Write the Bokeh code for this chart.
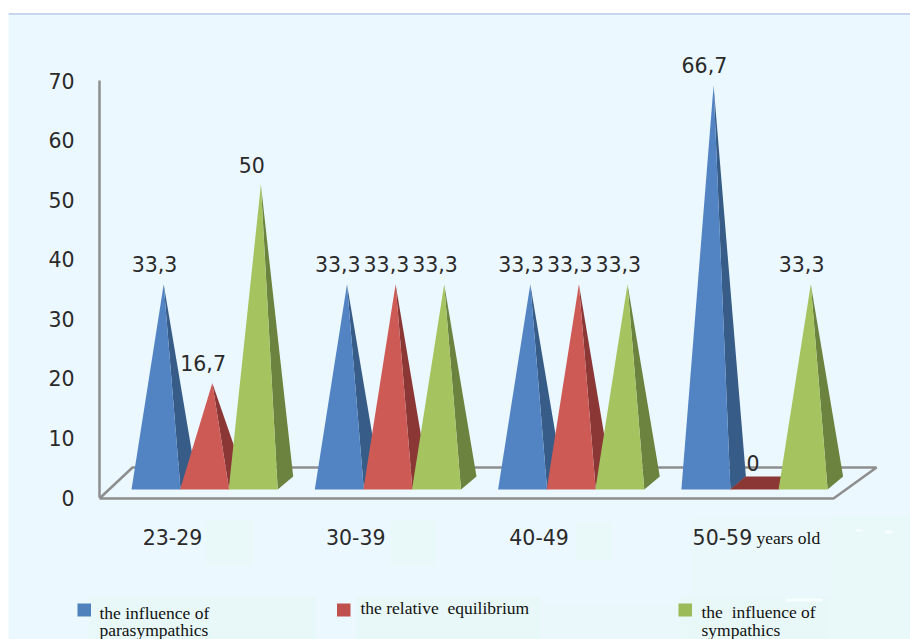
from bokeh.plotting import figure
from bokeh.models import LinearAxis, FixedTicker
from bokeh.core.properties import value
from bokeh.embed import file_html
from bokeh.resources import INLINE

categories = ["23-29", "30-39", "40-49", "50-59"]
parasympathics = [33.3, 33.3, 33.3, 66.7]
equilibrium = [16.7, 33.3, 33.3, 0]
sympathics = [50, 33.3, 33.3, 33.3]
y_ticks = [0, 10, 20, 30, 40, 50, 60, 70]
legend_names = ["the influence of\nparasympathics", "the relative\u00a0 equilibrium", "the\u00a0 influence of\nsympathics"]

PANEL = "#ECF8FF"
GRAY = "#8E8E8E"
INK = "#2A2A2A"
FRONT = ["#5284C4", "#CE5A56", "#A5C45F"]
SIDE = ["#375C88", "#8A3735", "#6C823F"]
SWATCH = ["#4F81BD", "#C0504D", "#9BBB59"]

# pixel scale of the reference chart, image coordinates
SX, SY = 183.3, 5.957
X0, Y0 = 172.0, 497.0
LEFT, RIGHT, TOP, BOTTOM = 8.0, 910.0, 13.0, 639.0


def X(px):
    return (px - X0) / SX


def Y(py):
    return (Y0 - py) / SY


p = figure(
    width=902, height=626, output_backend="svg", toolbar_location=None,
    x_range=(X(LEFT), X(RIGHT)), y_range=(Y(BOTTOM), Y(TOP)),
    x_axis_location=None, y_axis_location=None,
    min_border_left=0, min_border_right=0, min_border_top=0, min_border_bottom=0,
    background_fill_color=PANEL, border_fill_color=PANEL, outline_line_color=None,
)
p.margin = (13, 0, 0, 8)
p.grid.visible = False

# faint blotches of the scanned background
blotches = [
    (205, 253, 520, 566, "#E9F8F9"), (390, 436, 520, 566, "#E9F8F9"), (575, 612, 522, 560, "#E9F8F9"),
    (88, 316, 596, 639, "#E8F8F8"), (355, 540, 596, 639, "#E8F8F8"), (540, 680, 604, 639, "#EAF8FB"),
    (680, 830, 596, 639, "#E8F8F8"), (830, 910, 515, 639, "#E9F8F9"), (690, 830, 516, 596, "#EAF8FB"),
]
for l, r, t, b, c in blotches:
    p.quad(left=[X(l)], right=[X(r)], top=[Y(t)], bottom=[Y(b)], fill_color=c, line_color=None)
for l, r, t, b in [(786, 822, 598, 601), (855, 862, 529, 531), (885, 892, 530, 533)]:
    p.quad(left=[X(l)], right=[X(r)], top=[Y(t)], bottom=[Y(b)], fill_color="#F8FDFF", line_color=None)

# top rule
p.line([X(LEFT), X(RIGHT)], [Y(TOP), Y(TOP)], line_color="#9DB4DC", line_width=2)

# floor of the 3D plot
p.line([X(99), X(833), X(876), X(132), X(99)], [Y(498), Y(498), Y(467), Y(467), Y(498)],
       line_color=GRAY, line_width=2.5)

# y axis, placed inside the wide frame
yaxis = LinearAxis(ticker=FixedTicker(ticks=y_ticks), bounds=(0, 70))
yaxis.fixed_location = X(99)
yaxis.axis_line_color = GRAY
yaxis.axis_line_width = 2.5
yaxis.major_tick_line_color = None
yaxis.minor_tick_line_color = None
yaxis.major_label_text_font = "DejaVu Sans"
yaxis.major_label_text_font_size = "20.5px"
yaxis.major_label_text_color = INK
yaxis.major_label_standoff = 19
p.add_layout(yaxis, "left")

# x axis placed inside the tall frame
xaxis = LinearAxis(ticker=FixedTicker(ticks=list(range(len(categories)))),
                   major_label_overrides={i: c for i, c in enumerate(categories)})
xaxis.fixed_location = Y(520)
xaxis.axis_line_color = None
xaxis.major_tick_line_color = None
xaxis.minor_tick_line_color = None
xaxis.major_label_text_font = "DejaVu Sans"
xaxis.major_label_text_font_size = "20.5px"
xaxis.major_label_text_color = INK
xaxis.major_label_standoff = 2
p.add_layout(xaxis, "below")

# pyramids
W = 49.0 / SX
STEP = 48.6 / SX
LEFT_OFF = -41.0 / SX
DEPTH_X, DEPTH_Y = 15.5 / SX, 13.0 / SY
BASE = 8.0 / SY
APEX_X, APEX_Y = 7.7 / SX, 15.0 / SY
series = [parasympathics, equilibrium, sympathics]
lx, ly, lt = [], [], []
for g in range(len(categories)):
    for s, vals in enumerate(series):
        v = vals[g]
        x0 = g + LEFT_OFF + s * STEP
        x1 = x0 + W
        mid = (x0 + x1) / 2
        if v == 0:
            p.patch([x0, x1, x1 + DEPTH_X, x0 + DEPTH_X], [BASE, BASE, BASE + DEPTH_Y, BASE + DEPTH_Y],
                    fill_color=SIDE[s], line_color=None)
        else:
            ax, ay = mid + APEX_X, v + APEX_Y
            p.patch([ax, x1, x1 + DEPTH_X], [ay, BASE, BASE + DEPTH_Y], fill_color=SIDE[s], line_color=None)
            p.patch([x0, x1, ax], [BASE, BASE, ay], fill_color=FRONT[s], line_color=None)
        lx.append(mid - 1.5 / SX)
        ly.append(v + 35.0 / SY)
        lt.append(f"{v:g}".replace(".", ","))

p.text(lx, ly, text=lt, text_font=value("DejaVu Sans"), text_font_size="20.5px", text_color=INK,
       text_align="center", text_baseline="middle")

# years old note
p.text([X(756)], [Y(537)], text=["years old"], text_font=value("Liberation Serif"), text_font_size="17.5px",
       text_color="#111111", text_align="left", text_baseline="middle")

# legend
swatch_x = [77, 336.5, 678]
text_x = [99, 360, 701]
text_y = [[612, 629], [607], [611, 629]]
for i, name in enumerate(legend_names):
    p.quad(left=[X(swatch_x[i])], right=[X(swatch_x[i] + 13.5)], top=[Y(603)], bottom=[Y(616)],
           fill_color=SWATCH[i], line_color=None)
    for line, yy in zip(name.split("\n"), text_y[i]):
        p.text([X(text_x[i])], [Y(yy)], text=[line], text_font=value("Liberation Serif"),
               text_font_size="17.5px", text_color="#111111", text_align="left", text_baseline="middle")

open("out.html", "w").write(file_html(p, INLINE))
